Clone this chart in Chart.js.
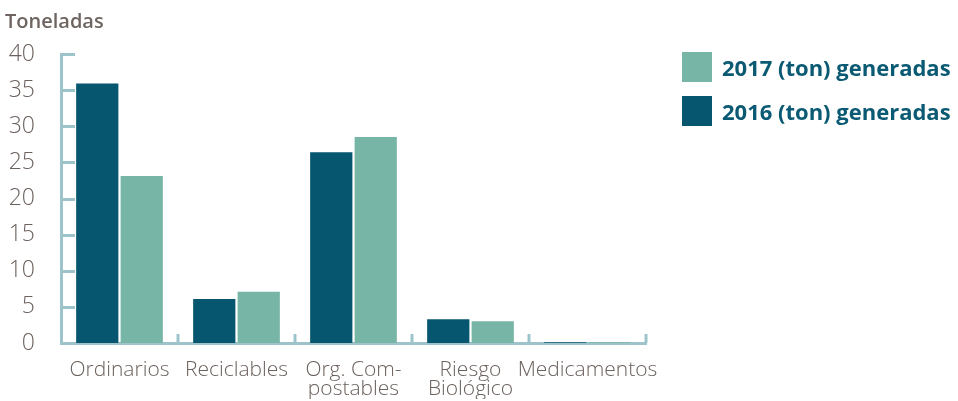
<!DOCTYPE html>
<html>
<head>
<meta charset="utf-8">
<script src="https://cdn.jsdelivr.net/npm/chart.js@4.4.0/dist/chart.umd.min.js"></script>
<style>
  html, body { margin: 0; padding: 0; background: #fff; }
  #wrap { position: relative; width: 958px; height: 401px; }
  #leyenda { position: absolute; left: 682px; top: 52px; font-family: "Open Sans", sans-serif; font-weight: 700; font-size: 22px; color: #0b5a73; }
  #leyenda div { display: flex; align-items: center; height: 30px; margin-bottom: 14px; white-space: nowrap; }
  #leyenda span { display: inline-block; width: 30px; height: 30px; margin-right: 10px; }
</style>
</head>
<body>
<div id="wrap">
  <canvas id="graficoResiduos" width="958" height="401"></canvas>
  <div id="leyenda"></div>
</div>
<script>
const categorias = ['Ordinarios', 'Reciclables', ['Org. Com-', 'postables'], ['Riesgo', 'Biológico'], 'Medicamentos'];
const ton2016 = [35.9, 6.1, 26.4, 3.3, 0.1];
const ton2017 = [23.1, 7.1, 28.5, 3.0, 0.1];
const ticksY = [0, 5, 10, 15, 20, 25, 30, 35, 40];

const colorOscuro = '#07566f';
const colorClaro = '#77b5a6';
const colorEje = '#9cc4ca';
const colorTexto = '#6b615d';

// marcas cortas hacia adentro en los ejes
const marcasEjes = {
  id: 'marcasEjes',
  afterDraw(chart) {
    const ctx = chart.ctx;
    const x = chart.scales.x;
    const y = chart.scales.y;
    const area = chart.chartArea;
    ctx.save();
    ctx.strokeStyle = colorEje;
    ctx.lineWidth = 3;
    ticksY.forEach(v => {
      const py = Math.round(y.getPixelForValue(v)) + 0.5;
      ctx.beginPath();
      ctx.moveTo(area.left, py);
      ctx.lineTo(area.left + 14, py);
      ctx.stroke();
    });
    const ancho = x.width / categorias.length;
    for (let i = 0; i < categorias.length; i++) {
      const px = x.getPixelForValue(i) + ancho / 2;
      ctx.beginPath();
      ctx.moveTo(px, area.bottom);
      ctx.lineTo(px, area.bottom - 9);
      ctx.stroke();
    }
    ctx.restore();
  }
};

const ctx = document.getElementById('graficoResiduos').getContext('2d');
const grafico = new Chart(ctx, {
  type: 'bar',
  data: {
    labels: categorias,
    datasets: [
      { label: '2016 (ton) generadas', data: ton2016, backgroundColor: colorOscuro, barPercentage: 0.95, categoryPercentage: 0.76 },
      { label: '2017 (ton) generadas', data: ton2017, backgroundColor: colorClaro, barPercentage: 0.95, categoryPercentage: 0.76 }
    ]
  },
  options: {
    responsive: false,
    animation: false,
    layout: { padding: { left: 5, right: 312, top: 10, bottom: 2 } },
    plugins: {
      legend: { display: false },
      tooltip: { enabled: false },
      title: {
        display: true,
        text: 'Toneladas',
        align: 'start',
        color: '#6e6460',
        font: { family: 'Open Sans', size: 20, weight: '600' },
        padding: { top: 0, bottom: 20 }
      }
    },
    scales: {
      x: {
        afterFit(scale) { scale.height = 56; },
        grid: { display: false },
        border: { display: true, color: colorEje, width: 3 },
        ticks: {
          color: colorTexto,
          padding: 10,
          maxRotation: 0,
          autoSkip: false,
          font: { family: 'Open Sans', size: 21, weight: '300', lineHeight: 0.9 }
        }
      },
      y: {
        min: 0,
        max: 40,
        afterFit(scale) { scale.width = 56; },
        grid: { display: false },
        border: { display: true, color: colorEje, width: 3 },
        ticks: {
          stepSize: 5,
          color: colorTexto,
          padding: 18,
          font: { family: 'Open Sans', size: 23, weight: '300' }
        }
      }
    }
  },
  plugins: [marcasEjes]
});

// leyenda en HTML, 2017 arriba como en el original
const leyenda = document.getElementById('leyenda');
grafico.data.datasets.slice().reverse().forEach(ds => {
  leyenda.innerHTML += `<div><span style="background:${ds.backgroundColor}"></span>${ds.label}</div>`;
});
</script>
</body>
</html>
